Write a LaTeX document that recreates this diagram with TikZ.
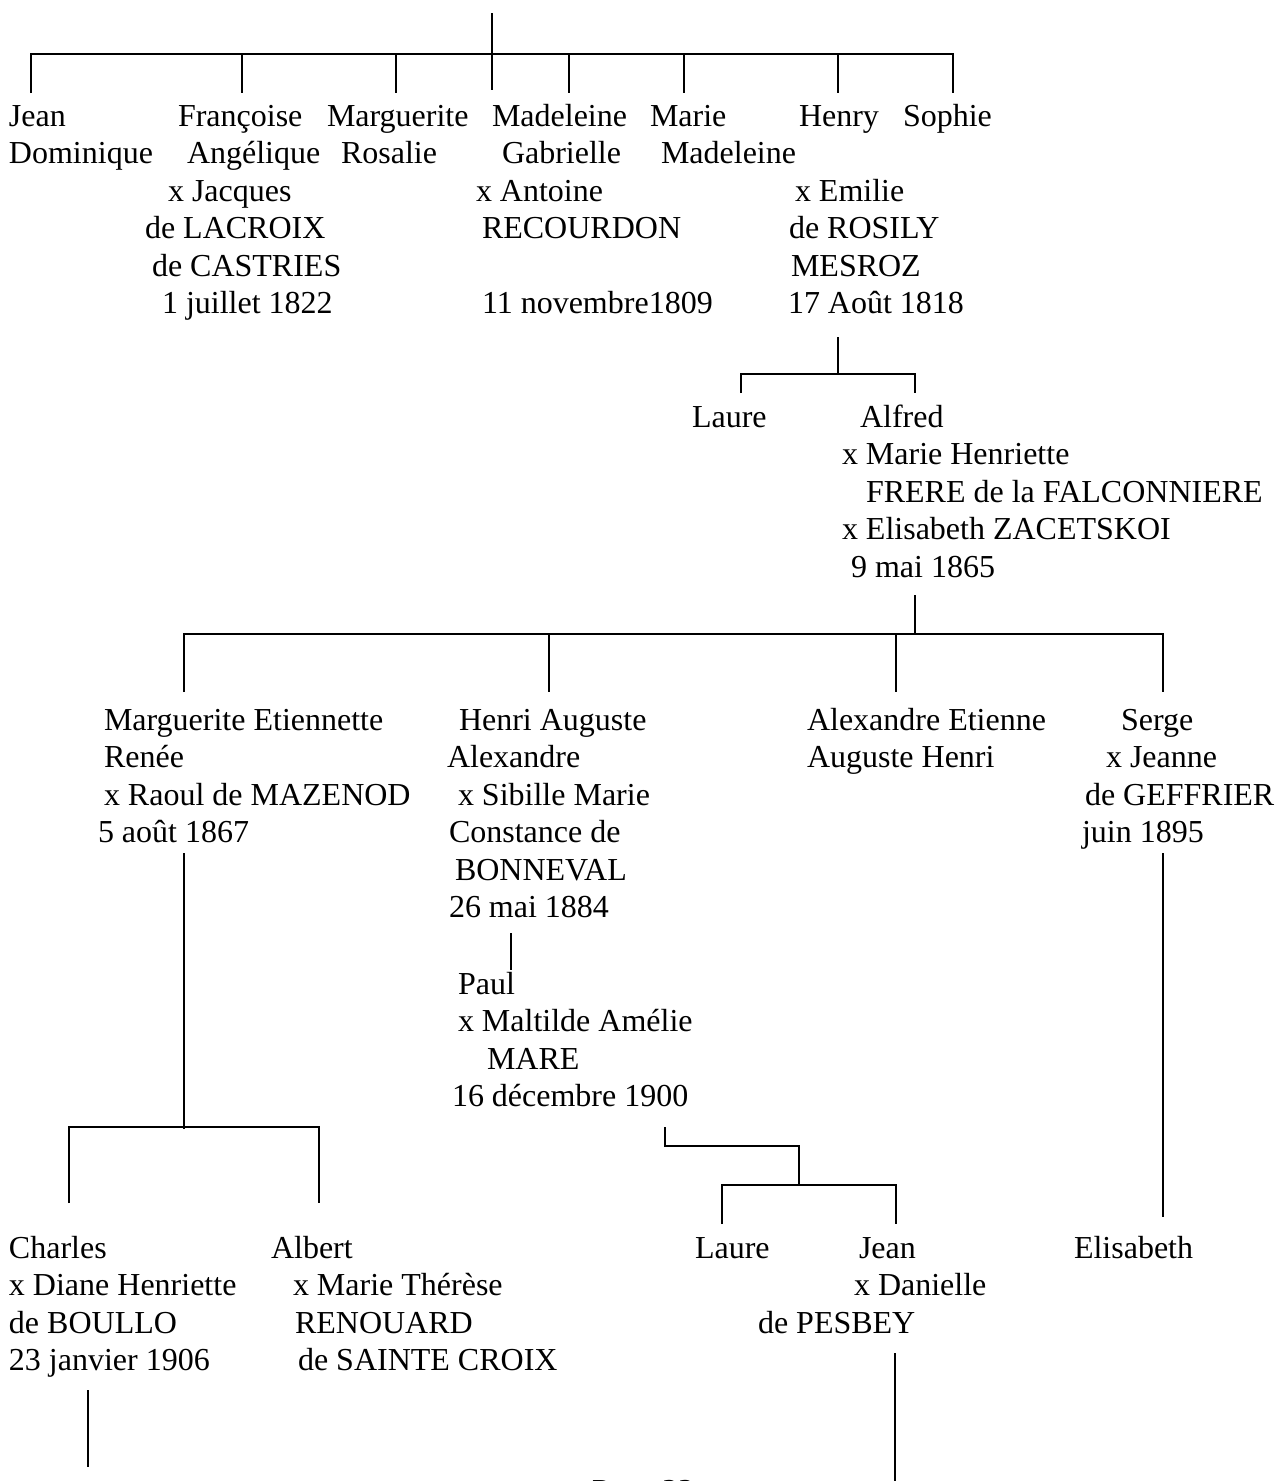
\documentclass[tikz,border=0pt]{standalone}
\usepackage{fontspec}
\setmainfont{Liberation Serif}
\begin{document}
\begin{tikzpicture}[x=1pt,y=-1pt,
  person/.style={anchor=base west, inner sep=0pt, outer sep=0pt, align=left,
    font=\fontsize{32}{37.5}\selectfont},
  link/.style={line width=2.2pt, line join=miter}]
\useasboundingbox (0,0) rectangle (1276,1481);
\clip (0,0) rectangle (1276,1481);

% (each node is placed at the baseline of its LAST line)
% ---------- generation 1 ----------
\node[person] (jean) at (9,163.5) {Jean\\Dominique};
\node[person] (francoise) at (145,313.5) {\hspace*{33pt}Françoise\\\hspace*{42pt}Angélique\\\hspace*{23pt}x Jacques\\de LACROIX\\\hspace*{7pt}de CASTRIES\\\hspace*{17pt}1 juillet 1822};
\node[person] (marguerite) at (327,163.5) {Marguerite\\\hspace*{14pt}Rosalie};
\node[person] (madeleine) at (476,313.5) {\hspace*{16pt}Madeleine\\\hspace*{26pt}Gabrielle\\x Antoine\\\hspace*{6pt}RECOURDON\\\mbox{}\\\hspace*{6pt}11 novembre1809};
\node[person] (marie) at (650,163.5) {Marie\\\hspace*{11pt}Madeleine};
\node[person] (henry) at (788,313.5) {\hspace*{11pt}Henry\\\mbox{}\\\hspace*{7pt}x Emilie\\\hspace*{1pt}de ROSILY\\\hspace*{3pt}MESROZ\\17 Août 1818};
\node[person] (sophie) at (903,126) {Sophie};

% ---------- generation 2 ----------
\node[person] (laure) at (692,427) {Laure};
\node[person] (alfred) at (842,577) {\hspace*{18pt}Alfred\\x Marie Henriette\\\hspace*{24pt}FRERE de la FALCONNIERE\\x Elisabeth ZACETSKOI\\\hspace*{9pt}9 mai 1865};

% ---------- generation 3 ----------
\node[person] (margEt) at (98,842.5) {\hspace*{6pt}Marguerite Etiennette\\\hspace*{6pt}Renée\\\hspace*{6pt}x Raoul de MAZENOD\\5 août 1867};
\node[person] (henriAug) at (447,917.5) {\hspace*{12pt}Henri Auguste\\Alexandre\\\hspace*{11pt}x Sibille Marie\\\hspace*{2pt}Constance de\\\hspace*{8pt}BONNEVAL\\\hspace*{2pt}26 mai 1884};
\node[person] (alexEt) at (807,767.5) {Alexandre Etienne\\Auguste Henri};
\node[person] (serge) at (1082,842.5) {\hspace*{39pt}Serge\\\hspace*{24pt}x Jeanne\\\hspace*{3pt}de GEFFRIER\\juin 1895};
\node[person] (paul) at (452,1106.5) {\hspace*{6pt}Paul\\\hspace*{6pt}x Maltilde Amélie\\\hspace*{35pt}MARE\\16 décembre 1900};

% ---------- generation 4 ----------
\node[person] (charles) at (9,1370.5) {Charles\\x Diane Henriette\\de BOULLO\\23 janvier 1906};
\node[person] (albert) at (271,1370.5) {Albert\\\hspace*{22pt}x Marie Thérèse\\\hspace*{24pt}RENOUARD\\\hspace*{27pt}de SAINTE CROIX};
\node[person] (laureB) at (695,1258) {Laure};
\node[person] (jeanB) at (758,1333) {\hspace*{101pt}Jean\\\hspace*{96pt}x Danielle\\de PESBEY};
\node[person] (elisabeth) at (1074,1258) {Elisabeth};
\node[person] (page) at (592,1501) {Page 22};

% ---------- connector coordinates ----------
\coordinate (rootT) at (492,13);
\coordinate (rootB) at (492,90);
\coordinate (g1L) at (31,54);
\coordinate (g1R) at (953,54);
\coordinate (d1a) at (31,93);
\coordinate (d1b) at (242,93);
\coordinate (d1c) at (396,93);
\coordinate (d1d) at (569,93);
\coordinate (d1e) at (684,93);
\coordinate (d1f) at (838,93);
\coordinate (d1g) at (953,93);

\coordinate (henT) at (838,337);
\coordinate (g2L) at (741,374);
\coordinate (g2R) at (915,374);
\coordinate (d2a) at (741,393);
\coordinate (d2b) at (915,393);

\coordinate (alfT) at (915,595);
\coordinate (g3L) at (184,634);
\coordinate (g3R) at (1163,634);
\coordinate (d3a) at (184,692);
\coordinate (d3b) at (549,692);
\coordinate (d3c) at (896,692);
\coordinate (d3d) at (1163,692);

\coordinate (marT) at (184,853);
\coordinate (marB) at (184,1129);
\coordinate (g4L) at (69,1127);
\coordinate (g4R) at (319,1127);
\coordinate (d4a) at (69,1203);
\coordinate (d4b) at (319,1203);

\coordinate (henriT) at (511,933);
\coordinate (henriB) at (511,970);

\coordinate (paulT) at (665,1127);
\coordinate (paulK) at (665,1146);
\coordinate (paulJ) at (799,1146);
\coordinate (paulB) at (799,1185);
\coordinate (g5L) at (722,1185);
\coordinate (g5R) at (896,1185);
\coordinate (d5a) at (722,1224);
\coordinate (d5b) at (896,1224);

\coordinate (sergeT) at (1163,853);
\coordinate (sergeB) at (1163,1217);

\coordinate (charT) at (88,1390);
\coordinate (charB) at (88,1467);

\coordinate (jeanT) at (895,1353);
\coordinate (jeanBot) at (895,1481);

% ---------- connectors ----------
\draw[link] (rootT) -- (rootB);
\draw[link] (d1a) -- (g1L) -- (g1R) -- (d1g);
\foreach \c in {d1b,d1c,d1d,d1e,d1f} \draw[link] (\c |- g1L) -- (\c);

\draw[link] (henT) -- (henT |- g2L);
\draw[link] (d2a) -- (g2L) -- (g2R) -- (d2b);

\draw[link] (alfT) -- (alfT |- g3L);
\draw[link] (d3a) -- (g3L) -- (g3R) -- (d3d);
\foreach \c in {d3b,d3c} \draw[link] (\c |- g3L) -- (\c);

\draw[link] (marT) -- (marB);
\draw[link] (d4a) -- (g4L) -- (g4R) -- (d4b);

\draw[link] (henriT) -- (henriB);

\draw[link] (paulT) -- (paulK) -- (paulJ) -- (paulB);
\draw[link] (d5a) -- (g5L) -- (g5R) -- (d5b);

\draw[link] (sergeT) -- (sergeB);
\draw[link] (charT) -- (charB);
\draw[link] (jeanT) -- (jeanBot);
\end{tikzpicture}
\end{document}
